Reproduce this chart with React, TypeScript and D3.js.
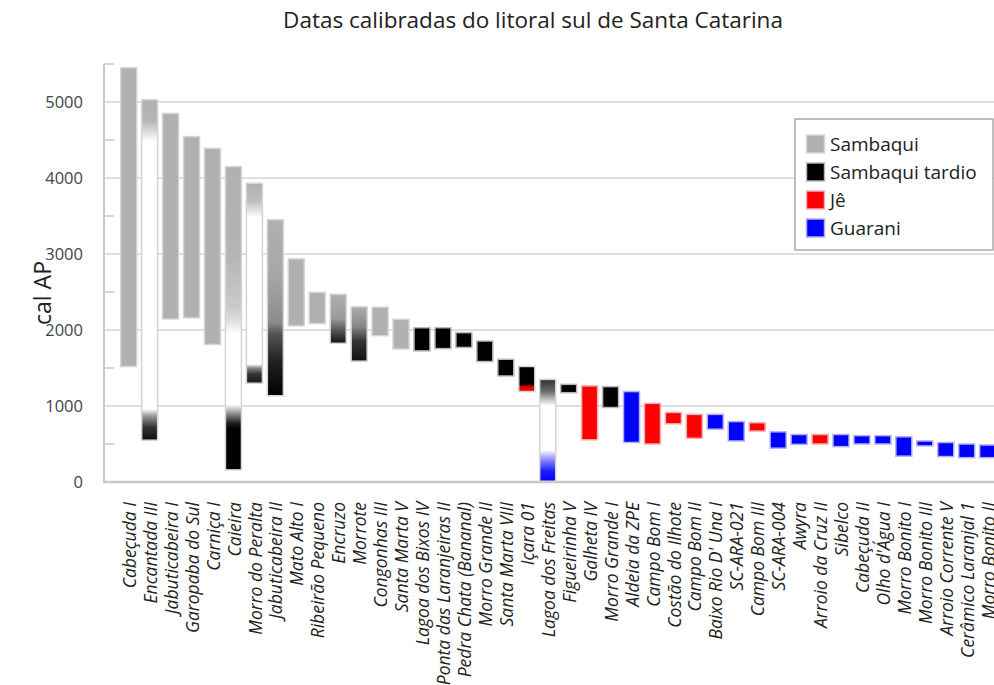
import React from "react";
import * as d3 from "d3";

const sites = [
  "Cabeçuda I", "Encantada III", "Jabuticabeira I", "Garopaba do Sul", "Carniça I", "Caieira",
  "Morro do Peralta", "Jabuticabeira II", "Mato Alto I", "Ribeirão Pequeno", "Encruzo", "Morrote",
  "Congonhas III", "Santa Marta V", "Lagoa dos Bixos IV", "Ponta das Laranjeiras II",
  "Pedra Chata (Bananal)", "Morro Grande II", "Santa Marta VIII", "Içara 01", "Lagoa dos Freitas",
  "Figueirinha V", "Galheta IV", "Morro Grande I", "Aldeia da ZPE", "Campo Bom I",
  "Costão do Ilhote", "Campo Bom II", "Baixo Rio D' Una I", "SC-ARA-021", "Campo Bom III",
  "SC-ARA-004", "Awyra", "Arroio da Cruz II", "Sibelco", "Cabeçuda II", "Olho d'Água I",
  "Morro Bonito I", "Morro Bonito III", "Arroio Corrente V", "Cerâmico Laranjal 1", "Morro Bonito II",
];

const maxAge = [
  5450, 5030, 4850, 4545, 4390, 4150, 3930, 3450, 2935, 2495, 2470, 2305, 2300, 2140, 2030, 2030,
  1965, 1855, 1615, 1520, 1350, 1285, 1265, 1255, 1190, 1035, 915, 890, 890, 795, 780, 660, 625,
  625, 625, 610, 610, 595, 540, 520, 500, 487,
];

const minAge = [
  1520, 550, 2145, 2160, 1810, 160, 1300, 1135, 2055, 2085, 1825, 1590, 1925, 1750, 1725, 1755,
  1770, 1585, 1395, 1190, 10, 1175, 555, 980, 520, 500, 765, 575, 695, 540, 670, 445, 495, 500,
  465, 500, 500, 340, 475, 335, 320, 320,
];

// S = Sambaqui, T = Sambaqui tardio, J = Jê, G = Guarani, X = mixed (gradient)
const culture = [
  "S", "X", "S", "S", "S", "X", "X", "X", "S", "S", "X", "X", "S", "S", "T", "T", "T", "T", "T",
  "X", "X", "T", "J", "T", "G", "J", "J", "J", "G", "G", "J", "G", "G", "J", "G", "G", "G", "G",
  "G", "G", "G", "G",
];

// gradient stops: [age, colour]
const gradients: Record<string, [number, string][]> = {
  "Encantada III": [[5030, "#b0b0b0"], [4750, "#b6b6b6"], [4480, "#ffffff"], [960, "#ffffff"], [870, "#9a9a9a"], [720, "#333333"], [550, "#111111"]],
  "Caieira": [[4150, "#b0b0b0"], [3000, "#b4b4b4"], [2300, "#cacaca"], [2100, "#e2e2e2"], [1950, "#ffffff"], [1020, "#ffffff"], [930, "#aaaaaa"], [780, "#222222"], [700, "#000000"], [160, "#000000"]],
  "Morro do Peralta": [[3930, "#b0b0b0"], [3700, "#bdbdbd"], [3480, "#ffffff"], [1550, "#ffffff"], [1500, "#888888"], [1420, "#333333"], [1300, "#1a1a1a"]],
  "Jabuticabeira II": [[3450, "#b0b0b0"], [2700, "#a6a6a6"], [2100, "#8c8c8c"], [1950, "#555555"], [1600, "#222222"], [1135, "#000000"]],
  "Encruzo": [[2470, "#b0b0b0"], [2150, "#9a9a9a"], [1950, "#444444"], [1825, "#111111"]],
  "Morrote": [[2305, "#acacac"], [2050, "#888888"], [1850, "#333333"], [1590, "#111111"]],
  "Içara 01": [[1520, "#000000"], [1290, "#000000"], [1250, "#e00000"], [1190, "#ff0000"]],
  "Lagoa dos Freitas": [[1350, "#333333"], [1200, "#666666"], [1050, "#dddddd"], [1000, "#ffffff"], [420, "#ffffff"], [300, "#9090ff"], [150, "#2020ff"], [10, "#0000ff"]],
};

const legendLabels = ["Sambaqui", "Sambaqui tardio", "Jê", "Guarani"];
const legendKeys = ["S", "T", "J", "G"];
const cultureColor: Record<string, string> = { S: "#b0b0b0", T: "#000000", J: "#ff0000", G: "#0000ff" };
const cultureStroke: Record<string, string> = { S: "#d8d8d8", T: "#b8b8b8", J: "#f2b0b0", G: "#b0b0f2" };

const yTicks = [0, 1000, 2000, 3000, 4000, 5000];
const yMinorTicks = [500, 1500, 2500, 3500, 4500];

const W = 994;
const H = 685;
const FONT = "'Open Sans', 'Noto Sans', sans-serif";

export default function App() {
  const y = d3.scaleLinear().domain([0, 5500]).range([482, 64]);
  const x = d3.scalePoint<string>().domain(sites).range([128.7, 128.7 + 41 * 20.95]);
  const axisX = 104;
  const barW = 16;

  return (
    <svg width={W} height={H} style={{ position: "absolute", left: 0, top: 0, background: "#fff" }} fontFamily={FONT}>
      <defs>
        {sites.map((s, i) => {
          const g = gradients[s];
          if (!g) return null;
          const top = maxAge[i];
          const bot = minAge[i];
          return (
            <linearGradient key={s} id={`g${i}`} x1="0" y1="0" x2="0" y2="1">
              {g.map(([v, c], k) => (
                <stop key={k} offset={Math.max(0, Math.min(1, (top - v) / (top - bot)))} stopColor={c} />
              ))}
            </linearGradient>
          );
        })}
      </defs>

      <text x={533} y={28} textAnchor="middle" fontSize={22.5} fill="#222">
        Datas calibradas do litoral sul de Santa Catarina
      </text>

      {/* gridlines */}
      {yTicks.filter((t) => t > 0).map((t) => (
        <line key={t} x1={axisX} x2={W} y1={y(t)} y2={y(t)} stroke="#d4d4d4" strokeWidth={1.5} />
      ))}
      {yMinorTicks.map((t) => (
        <line key={t} x1={axisX} x2={axisX + 10} y1={y(t)} y2={y(t)} stroke="#c8c8c8" strokeWidth={1.5} />
      ))}
      {/* axes */}
      <line x1={axisX} x2={axisX} y1={64} y2={y(0)} stroke="#c8c8c8" strokeWidth={2} />
      <line x1={axisX} x2={axisX + 10} y1={64} y2={64} stroke="#c8c8c8" strokeWidth={1.5} />
      <line x1={axisX - 1} x2={W} y1={y(0)} y2={y(0)} stroke="#c8c8c8" strokeWidth={2.5} />

      {yTicks.map((t) => (
        <text key={t} x={83} y={y(t)} dy="0.35em" textAnchor="end" fontSize={16.5} fill="#444">
          {t}
        </text>
      ))}
      <text transform={`translate(51,293) rotate(-90)`} textAnchor="middle" fontSize={23} fill="#222">
        cal AP
      </text>

      {/* bars */}
      {sites.map((s, i) => {
        const cx = x(s)!;
        const y0 = y(maxAge[i]);
        const y1 = y(minAge[i]);
        const c = culture[i];
        const fill = c === "X" ? `url(#g${i})` : cultureColor[c];
        const stroke = c === "X" || c === "S" ? "#d4d4d4" : cultureStroke[c];
        return (
          <rect key={s} x={cx - barW / 2} y={y0} width={barW} height={y1 - y0} fill={fill} stroke={stroke} strokeWidth={1.5} />
        );
      })}

      {/* x labels */}
      {sites.map((s) => (
        <text
          key={s}
          transform={`translate(${x(s)! + 1},502) rotate(-90)`}
          dy="0.35em"
          textAnchor="end"
          fontSize={17.5}
          fontStyle="italic"
          fill="#222"
        >
          {s}
        </text>
      ))}

      {/* legend */}
      <rect x={795} y={119} width={198} height={131} fill="#fff" stroke="#aaa" strokeWidth={1.5} />
      {legendLabels.map((l, k) => {
        const yy = 135 + k * 28;
        const key = legendKeys[k];
        return (
          <g key={l}>
            <rect x={806.5} y={yy} width={18} height={18} fill={cultureColor[key]} stroke={cultureStroke[key]} strokeWidth={1.5} />
            <text x={830} y={yy + 9} dy="0.35em" fontSize={19} fill="#222">
              {l}
            </text>
          </g>
        );
      })}
    </svg>
  );
}
